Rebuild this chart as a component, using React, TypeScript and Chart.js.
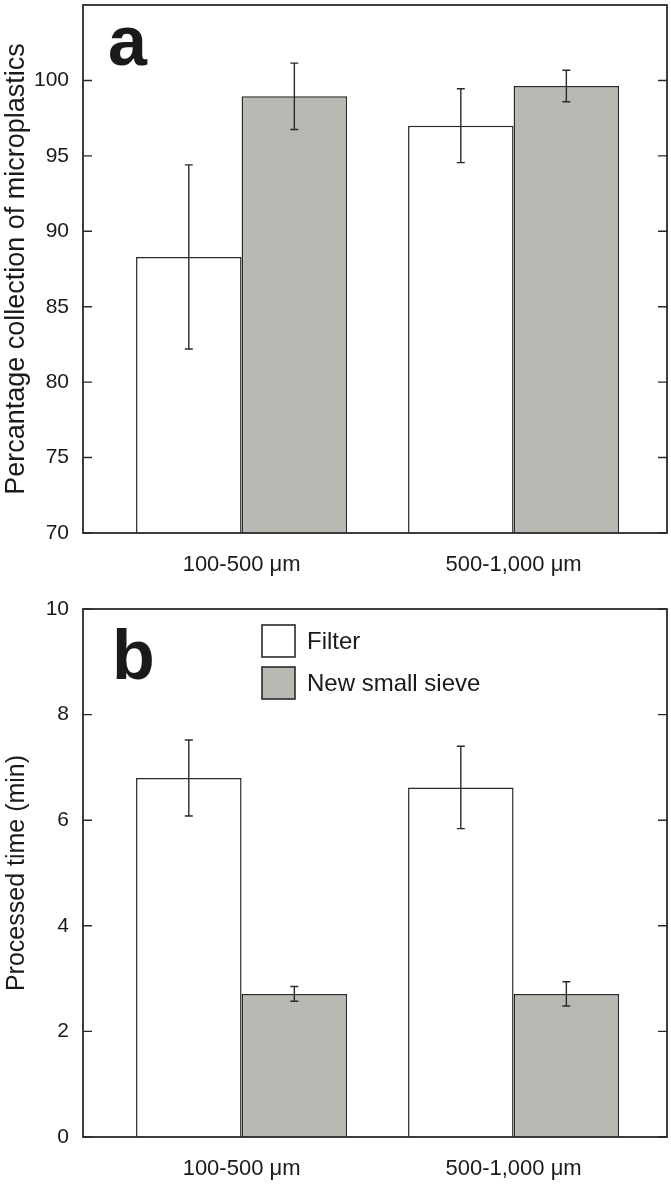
import React, { useEffect, useRef } from 'react';
import { Chart, registerables } from 'chart.js';

Chart.register(...registerables);

// ---------------- data ----------------
const CATEGORIES = ['100-500 μm', '500-1,000 μm'];
const CATEGORY_POS = [1, 2];
const SERIES_NAMES = ['Filter', 'New small sieve'];

const FILTER_PCT = [88.3, 97.0];
const FILTER_PCT_ERR = [6.1, 2.45];
const SIEVE_PCT = [98.95, 99.63];
const SIEVE_PCT_ERR = [2.2, 1.04];

const FILTER_TIME = [6.8, 6.62];
const FILTER_TIME_ERR = [0.72, 0.78];
const SIEVE_TIME = [2.71, 2.71];
const SIEVE_TIME_ERR = [0.14, 0.23];

const PCT_TICKS = [70, 75, 80, 85, 90, 95, 100];
const TIME_TICKS = [0, 2, 4, 6, 8, 10];

const TITLE_A = 'Percantage collection of microplastics';
const TITLE_B = 'Processed time (min)';

// ---------------- style ----------------
const WHITE = '#ffffff';
const GRAY = '#b7b9b3';
const INK = '#2a2a2a';
const TEXT = '#1a1a1a';
const SANS = "'Liberation Sans', Arial, Helvetica, sans-serif";

function drawText(ctx: CanvasRenderingContext2D, text: string, x: number, y: number, font: string,
  align: CanvasTextAlign, baseline: CanvasTextBaseline, rotate = false) {
  ctx.save();
  ctx.translate(x, y);
  if (rotate) ctx.rotate(-Math.PI / 2);
  ctx.font = font;
  ctx.fillStyle = TEXT;
  ctx.textAlign = align;
  ctx.textBaseline = baseline;
  ctx.fillText(text, 0, 0);
  ctx.restore();
}

type PanelCfg = {
  filter: number[]; filterErr: number[]; sieve: number[]; sieveErr: number[];
  min: number; max: number; ticks: number[]; padTop: number; xHeight: number;
  letter: string; letterDx: number; letterDy: number; title: string; titleSize: number;
  legend: boolean;
};

function makePlugin(cfg: PanelCfg) {
  const errs = [cfg.filterErr, cfg.sieveErr];
  return {
    id: 'panelDecor',
    afterDatasetsDraw(chart: any) {
      const ctx: CanvasRenderingContext2D = chart.ctx;
      const yScale = chart.scales.y;
      errs.forEach((e, di) => {
        const meta = chart.getDatasetMeta(di);
        const ds = chart.data.datasets[di];
        meta.data.forEach((el: any, i: number) => {
          const v = ds.data[i].y;
          const yTop = yScale.getPixelForValue(v + e[i]);
          const yBot = yScale.getPixelForValue(v - e[i]);
          ctx.save();
          ctx.strokeStyle = INK;
          ctx.lineWidth = 1.4;
          ctx.beginPath();
          ctx.moveTo(el.x, yTop); ctx.lineTo(el.x, yBot);
          ctx.moveTo(el.x - 4, yTop); ctx.lineTo(el.x + 4, yTop);
          ctx.moveTo(el.x - 4, yBot); ctx.lineTo(el.x + 4, yBot);
          ctx.stroke();
          ctx.restore();
        });
      });
    },
    afterDraw(chart: any) {
      const ctx: CanvasRenderingContext2D = chart.ctx;
      const a = chart.chartArea;
      const yScale = chart.scales.y;
      ctx.save();
      ctx.strokeStyle = INK;
      ctx.lineWidth = 1.4;
      ctx.beginPath();
      yScale.ticks.forEach((t: any) => {
        const y = yScale.getPixelForValue(t.value);
        ctx.moveTo(a.left, y); ctx.lineTo(a.left + 9, y);
        ctx.moveTo(a.right - 9, y); ctx.lineTo(a.right, y);
      });
      ctx.stroke();
      ctx.lineWidth = 1.8;
      ctx.strokeRect(a.left, a.top, a.right - a.left, a.bottom - a.top);
      ctx.restore();

      // panel letter
      drawText(ctx, cfg.letter, a.left + cfg.letterDx, a.top + cfg.letterDy,
        `bold 70px ${SANS}`, 'left', 'alphabetic');

      // y axis title
      drawText(ctx, cfg.title, 17, (a.top + a.bottom) / 2,
        `${cfg.titleSize}px ${SANS}`, 'center', 'middle', true);

      if (cfg.legend) {
        const colors = [WHITE, GRAY];
        SERIES_NAMES.forEach((name, i) => {
          const bx = a.left + 179;
          const by = a.top + 16 + i * 42;
          ctx.save();
          ctx.fillStyle = colors[i];
          ctx.fillRect(bx, by, 33, 32);
          ctx.strokeStyle = INK;
          ctx.lineWidth = 1.6;
          ctx.strokeRect(bx, by, 33, 32);
          ctx.restore();
          drawText(ctx, name, bx + 45, by + 17, `24px ${SANS}`, 'left', 'middle');
        });
      }
    },
  };
}

function buildConfig(cfg: PanelCfg): any {
  return {
    type: 'bar',
    data: {
      datasets: [
        {
          label: SERIES_NAMES[0],
          data: CATEGORY_POS.map((x, i) => ({ x, y: cfg.filter[i] })),
          backgroundColor: WHITE,
          borderColor: INK,
          borderWidth: 1.5,
          base: cfg.min,
        },
        {
          label: SERIES_NAMES[1],
          data: CATEGORY_POS.map((x, i) => ({ x, y: cfg.sieve[i] })),
          backgroundColor: GRAY,
          borderColor: INK,
          borderWidth: 1.5,
          base: cfg.min,
        },
      ],
    },
    options: {
      responsive: false,
      animation: false,
      devicePixelRatio: 1,
      layout: { padding: { top: cfg.padTop, right: 4, left: 0, bottom: 0 } },
      datasets: { bar: { categoryPercentage: 0.776, barPercentage: 1 } },
      plugins: { legend: { display: false }, tooltip: { enabled: false } },
      scales: {
        x: {
          type: 'linear',
          min: 0.417,
          max: 2.564,
          offset: false,
          grid: { display: false, drawTicks: false },
          border: { display: false },
          afterBuildTicks: (s: any) => { s.ticks = CATEGORY_POS.map((v) => ({ value: v })); },
          afterFit: (s: any) => { s.height = cfg.xHeight; s.paddingLeft = 0; s.paddingRight = 0; },
          ticks: {
            autoSkip: false,
            maxRotation: 0,
            padding: 19,
            color: TEXT,
            font: { family: SANS, size: 22 },
            callback: (v: number) => {
              const idx = CATEGORY_POS.indexOf(v);
              return idx >= 0 ? CATEGORIES[idx] : '';
            },
          },
        },
        y: {
          min: cfg.min,
          max: cfg.max,
          grid: { display: false, drawTicks: false },
          border: { display: false },
          afterBuildTicks: (s: any) => { s.ticks = cfg.ticks.map((v) => ({ value: v })); },
          afterFit: (s: any) => { s.width = 83; s.paddingTop = 0; s.paddingBottom = 0; },
          ticks: { color: TEXT, font: { family: SANS, size: 21 }, padding: 14 },
        },
      },
    },
    plugins: [makePlugin(cfg)],
  };
}

const PANEL_A: PanelCfg = {
  filter: FILTER_PCT, filterErr: FILTER_PCT_ERR, sieve: SIEVE_PCT, sieveErr: SIEVE_PCT_ERR,
  min: 70, max: 105, ticks: PCT_TICKS, padTop: 5, xHeight: 60,
  letter: 'a', letterDx: 25, letterDy: 60, title: TITLE_A, titleSize: 27, legend: false,
};

const PANEL_B: PanelCfg = {
  filter: FILTER_TIME, filterErr: FILTER_TIME_ERR, sieve: SIEVE_TIME, sieveErr: SIEVE_TIME_ERR,
  min: 0, max: 10, ticks: TIME_TICKS, padTop: 16, xHeight: 50,
  letter: 'b', letterDx: 29, letterDy: 70, title: TITLE_B, titleSize: 25, legend: true,
};

function Panel({ cfg, top, height }: { cfg: PanelCfg; top: number; height: number }) {
  const ref = useRef<HTMLCanvasElement>(null);
  useEffect(() => {
    const chart = new Chart(ref.current as HTMLCanvasElement, buildConfig(cfg));
    return () => chart.destroy();
  }, [cfg]);
  return (
    <canvas
      ref={ref}
      width={671}
      height={height}
      style={{ position: 'absolute', left: 0, top, width: 671, height }}
    />
  );
}

export default function App() {
  return (
    <div style={{ position: 'absolute', left: 0, top: 0, width: 671, height: 1187, background: '#fff' }}>
      <Panel cfg={PANEL_A} top={0} height={593} />
      <Panel cfg={PANEL_B} top={593} height={594} />
    </div>
  );
}
